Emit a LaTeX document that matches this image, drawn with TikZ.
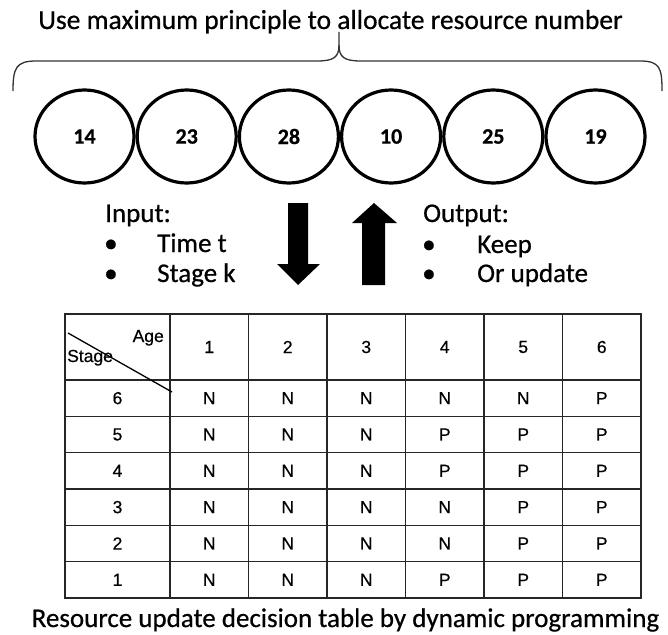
\documentclass[tikz,border=0pt]{standalone}
\usepackage{fontspec}
\setmainfont{Carlito}[FakeBold=0.6]
\newfontfamily\tablefont{Liberation Sans}[FakeBold=0.5]
\usetikzlibrary{backgrounds}
\usetikzlibrary{shapes.geometric}
\usetikzlibrary{positioning}

\begin{document}
\begin{tikzpicture}[
    x=1pt, y=-1pt,
    show background rectangle,
    tight background=0,
    background rectangle/.style={fill=white},
    node distance=0,
    ball/.style={ellipse, draw, line width=3.2pt, minimum width=99pt,
        minimum height=93pt, inner sep=0pt,
        font=\fontsize{22}{26}\selectfont\bfseries},
    big/.style={font=\fontsize{27}{32}\selectfont, inner sep=0pt},
    cell/.style={font=\tablefont\fontsize{17.5}{20}\selectfont, inner sep=0pt},
    grid/.style={line width=1.4pt, black!85},
 ]
    \useasboundingbox (0,0) rectangle (668,634);

    \node[big, font=\fontsize{27.5}{32}\selectfont, anchor=base] (T) at (330.5,29)
        {Use maximum principle to allocate resource number};
    \draw[line width=1.3pt, black!80] (13,91) .. controls (13,68) and (16,61) .. (36,61)
        -- (317,61) .. controls (334,61) and (339,57) .. (339,45) -- (339,32);
    \draw[line width=1.3pt, black!80] (339,45) .. controls (339,57) and (344,61) .. (361,61)
        -- (640,61) .. controls (660,61) and (662,68) .. (662,91);

    \node[ball] (C1) at (84.5,136.5) {14};
    \node[ball, right=of C1] (C2) {23};
    \node[ball, right=of C2] (C3) {28};
    \node[ball, right=of C3] (C4) {10};
    \node[ball, right=of C4] (C5) {25};
    \node[ball, right=of C5] (C6) {19};

    \node[big, anchor=base west] (IN) at (105,222) {Input:};
    \node[big, anchor=base west] (I1) at (157,252) {Time t};
    \node[big, anchor=base west] (I2) at (157,282) {Stage k};
    \node[big, anchor=base west] (B1) at (104,252) {•};
    \node[big, anchor=base west] (B2) at (104,282) {•};

    \node[big, anchor=base west] (OUT) at (423,222) {Output:};
    \node[big, anchor=base west] (O1) at (477,253) {Keep};
    \node[big, anchor=base west] (O2) at (477,282) {Or update};
    \node[big, anchor=base west] (B3) at (422,253) {•};
    \node[big, anchor=base west] (B4) at (422,282) {•};

    \fill (288,203) -- (308,203) -- (308,264) -- (320,264) -- (298,285)
        -- (277,264) -- (288,264) -- cycle;
    \fill (362,285) -- (385,285) -- (385,223) -- (397,223) -- (374,203)
        -- (352,223) -- (362,223) -- cycle;

    \draw[grid] (65,314) rectangle (641,598);
    \foreach \x in {170,248.5,327,405.5,484,562.5}
        \draw[grid] (\x,314) -- (\x,598);
    \foreach \y in {380,416.3,452.7,489,525.3,561.7}
        \draw[grid] (65,\y) -- (641,\y);
    \draw[line width=1.3pt] (68,333) -- (172,392);
    \node[cell, anchor=base east] (AGE) at (164,342) {Age};
    \node[cell, anchor=base west] (STG) at (67,362) {Stage};

    \foreach \k in {1,...,6}
        \node[cell] (H\k) at (170+78.5*\k-39.25,347) {\k};
    \foreach \i/\s/\vals in {1/6/{N,N,N,N,N,P},2/5/{N,N,N,P,P,P},3/4/{N,N,N,P,P,P},
                            4/3/{N,N,N,N,P,P},5/2/{N,N,N,N,P,P},6/1/{N,N,N,P,P,P}} {
        \node[cell] (S\s) at (117.5,380+36.33*\i-18.2) {\s};
        \foreach \v [count=\k] in \vals
            \node[cell] (D\s-\k) at (170+78.5*\k-39.25,380+36.33*\i-18.2) {\v};
    }

    \node[big, anchor=base] (CAP) at (345.5,627) {Resource update decision table by dynamic programming};
\end{tikzpicture}
\end{document}
